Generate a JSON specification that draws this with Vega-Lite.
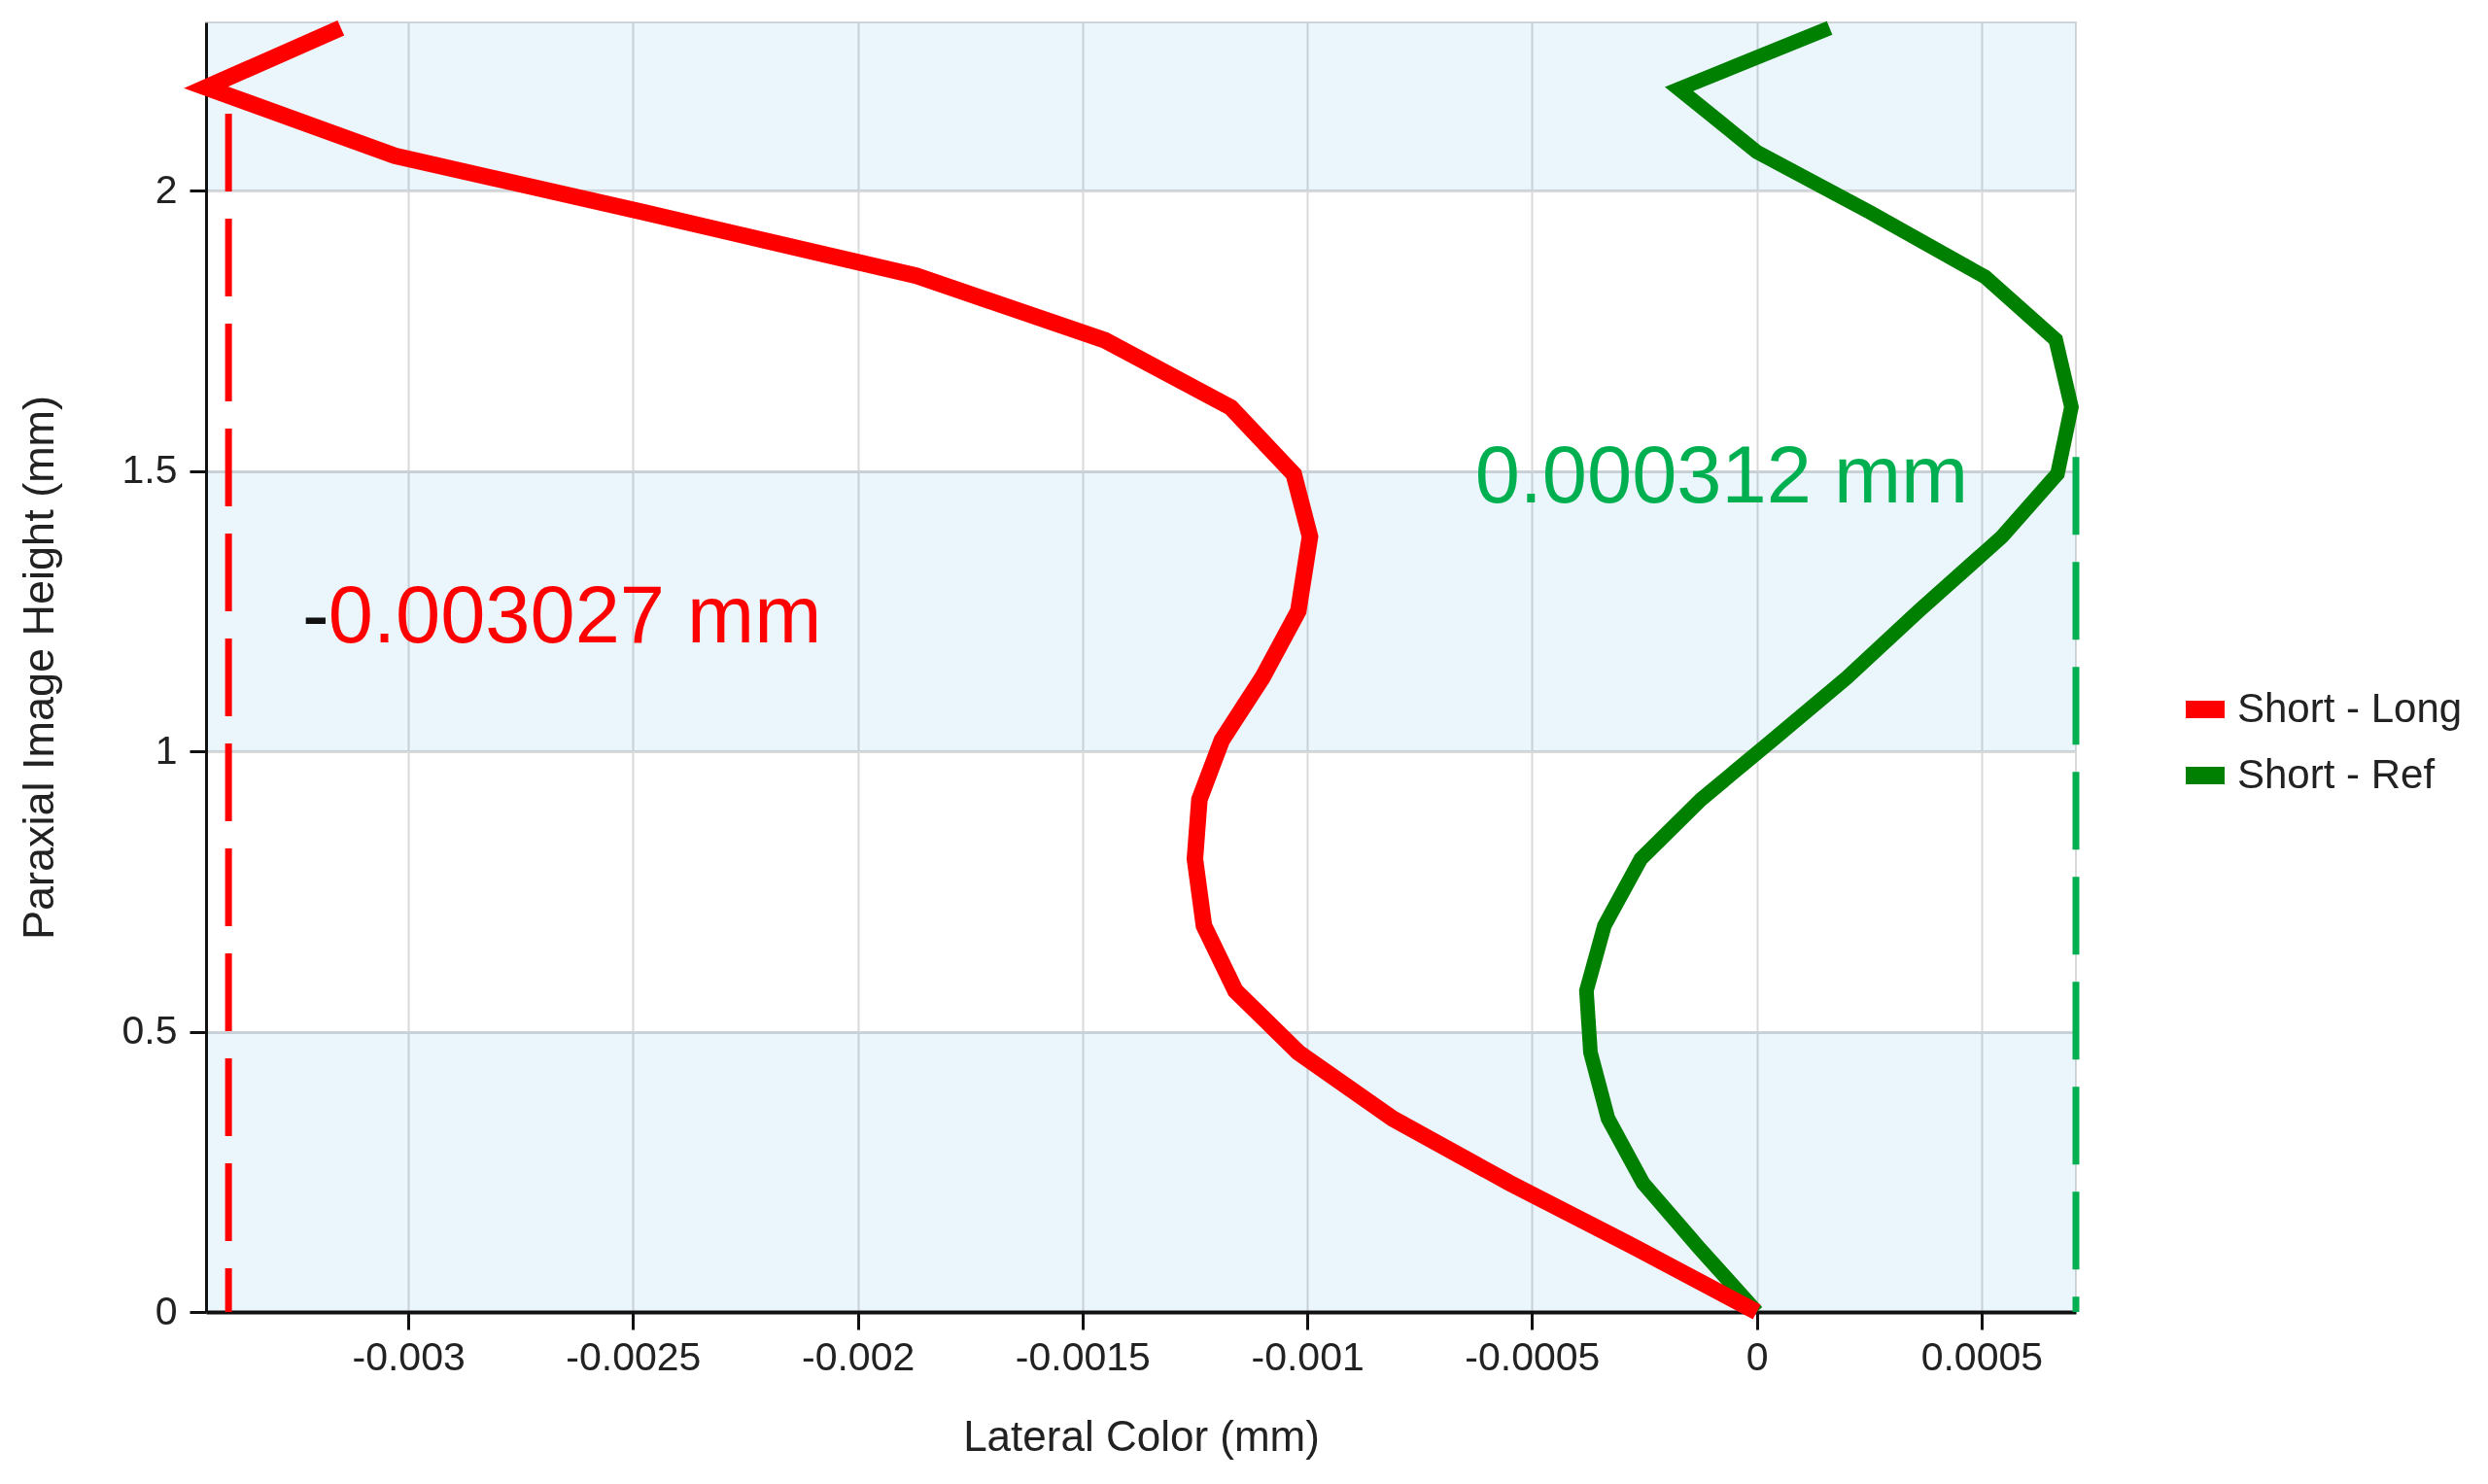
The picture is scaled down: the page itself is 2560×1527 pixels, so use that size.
{
  "$schema": "https://vega.github.io/schema/vega-lite/v6.json",
  "width": 1924,
  "height": 1327,
  "autosize": {"type": "none"},
  "padding": {"left": 212, "top": 23, "right": 424, "bottom": 177},
  "background": "white",
  "config": {
    "locale": {"number": {"decimal": ".", "thousands": ",", "grouping": [3], "currency": ["$", ""], "minus": "-"}},
    "view": {"stroke": "#D9D9D9", "strokeWidth": 2},
    "font": "Liberation Sans"
  },
  "datasets": {
    "bands": [
      {"lo": 0, "hi": 0.5},
      {"lo": 1, "hi": 1.5},
      {"lo": 2, "hi": 2.3}
    ],
    "curves": [
      {"series": "Short - Long", "lc": 0, "h": 0},
      {"series": "Short - Long", "lc": -0.00027, "h": 0.115},
      {"series": "Short - Long", "lc": -0.00055, "h": 0.23},
      {"series": "Short - Long", "lc": -0.00081, "h": 0.345},
      {"series": "Short - Long", "lc": -0.00102, "h": 0.463},
      {"series": "Short - Long", "lc": -0.00116, "h": 0.573},
      {"series": "Short - Long", "lc": -0.00123, "h": 0.689},
      {"series": "Short - Long", "lc": -0.00125, "h": 0.808},
      {"series": "Short - Long", "lc": -0.00124, "h": 0.914},
      {"series": "Short - Long", "lc": -0.00119, "h": 1.02},
      {"series": "Short - Long", "lc": -0.0011, "h": 1.131},
      {"series": "Short - Long", "lc": -0.00102, "h": 1.25},
      {"series": "Short - Long", "lc": -0.000994, "h": 1.383},
      {"series": "Short - Long", "lc": -0.00103, "h": 1.494},
      {"series": "Short - Long", "lc": -0.00117, "h": 1.613},
      {"series": "Short - Long", "lc": -0.00145, "h": 1.733},
      {"series": "Short - Long", "lc": -0.00187, "h": 1.848},
      {"series": "Short - Long", "lc": -0.00248, "h": 1.962},
      {"series": "Short - Long", "lc": -0.00303, "h": 2.062},
      {"series": "Short - Long", "lc": -0.00345, "h": 2.184},
      {"series": "Short - Long", "lc": -0.00315, "h": 2.29},
      {"series": "Short - Ref", "lc": 0, "h": 0},
      {"series": "Short - Ref", "lc": -0.000129, "h": 0.115},
      {"series": "Short - Ref", "lc": -0.000253, "h": 0.23},
      {"series": "Short - Ref", "lc": -0.000331, "h": 0.345},
      {"series": "Short - Ref", "lc": -0.00037, "h": 0.463},
      {"series": "Short - Ref", "lc": -0.000379, "h": 0.573},
      {"series": "Short - Ref", "lc": -0.000339, "h": 0.689},
      {"series": "Short - Ref", "lc": -0.000258, "h": 0.808},
      {"series": "Short - Ref", "lc": -0.000124, "h": 0.914},
      {"series": "Short - Ref", "lc": 0.000035, "h": 1.02},
      {"series": "Short - Ref", "lc": 0.0002, "h": 1.131},
      {"series": "Short - Ref", "lc": 0.00036, "h": 1.25},
      {"series": "Short - Ref", "lc": 0.000546, "h": 1.383},
      {"series": "Short - Ref", "lc": 0.000669, "h": 1.495},
      {"series": "Short - Ref", "lc": 0.0007, "h": 1.614},
      {"series": "Short - Ref", "lc": 0.000665, "h": 1.734},
      {"series": "Short - Ref", "lc": 0.000508, "h": 1.846},
      {"series": "Short - Ref", "lc": 0.00025, "h": 1.962},
      {"series": "Short - Ref", "lc": 0, "h": 2.069},
      {"series": "Short - Ref", "lc": -0.000173, "h": 2.181},
      {"series": "Short - Ref", "lc": 0.000162, "h": 2.29}
    ],
    "limits": [
      {"series": "Short - Long", "lc": -0.0034, "top": 2.137, "bottom": 0},
      {"series": "Short - Ref", "lc": 0.00071, "top": 1.525, "bottom": 0}
    ],
    "notes": [
      {"series": "Short - Long", "part": "sign", "t": "-", "lc": -0.003236, "h": 1.238},
      {"series": "Short - Long", "part": "value", "t": "0.003027 mm", "lc": -0.003178, "h": 1.238},
      {"series": "Short - Ref", "part": "value", "t": "0.000312 mm", "lc": -0.000627, "h": 1.487}
    ]
  },
  "layer": [
    {
      "data": {"name": "bands"},
      "mark": {"type": "rect", "fill": "#EAF5FC", "blend": "multiply"},
      "encoding": {
        "x": {"value": 0},
        "x2": {"value": "width"},
        "y": {
          "field": "lo", "type": "quantitative",
          "scale": {"domain": [0, 2.3], "nice": false, "zero": false},
          "axis": {
            "title": "Paraxial Image Height (mm)",
            "values": [0, 0.5, 1, 1.5, 2],
            "format": "~g",
            "grid": true, "gridColor": "#D9D9D9", "gridWidth": 3,
            "domainColor": "#111111", "domainWidth": 3,
            "tickColor": "#111111", "tickWidth": 3, "tickSize": 17,
            "labelFontSize": 41, "labelPadding": 13, "labelColor": "#222222",
            "titleFontSize": 45, "titleFontWeight": "normal", "titleColor": "#222222", "titlePadding": 62
          }
        },
        "y2": {"field": "hi"}
      }
    },
    {
      "data": {"name": "curves"},
      "transform": [{"filter": "datum.series === 'Short - Ref'"}],
      "mark": {"type": "line", "strokeWidth": 15, "strokeJoin": "miter", "strokeCap": "butt"},
      "encoding": {
        "x": {
          "field": "lc", "type": "quantitative",
          "scale": {"domain": [-0.00345, 0.00071], "nice": false, "zero": false},
          "axis": {
            "title": "Lateral Color (mm)",
            "values": [-0.003, -0.0025, -0.002, -0.0015, -0.001, -0.0005, 0, 0.0005],
            "format": "~g",
            "grid": true, "gridColor": "#D9D9D9", "gridWidth": 2,
            "domainColor": "#111111", "domainWidth": 4,
            "tickColor": "#111111", "tickWidth": 3, "tickSize": 18,
            "labelFontSize": 41, "labelPadding": 9, "labelColor": "#222222",
            "titleFontSize": 44, "titleFontWeight": "normal", "titleColor": "#222222", "titlePadding": 40
          }
        },
        "y": {"field": "h", "type": "quantitative", "scale": {"domain": [0, 2.3], "nice": false, "zero": false}},
        "order": {"field": "h", "type": "quantitative"},
        "color": {
          "field": "series", "type": "nominal",
          "scale": {"domain": ["Short - Long", "Short - Ref"], "range": ["#FF0000", "#008000"]},
          "legend": {
            "orient": "none", "legendX": 2028, "legendY": 678, "title": null,
            "symbolType": "stroke", "symbolSize": 1600, "symbolStrokeWidth": 18,
            "labelFontSize": 42, "labelColor": "#222222", "labelLimit": 0,
            "rowPadding": -4, "padding": 0, "labelOffset": 4
          }
        }
      }
    },
    {
      "data": {"name": "curves"},
      "transform": [{"filter": "datum.series === 'Short - Long'"}],
      "mark": {"type": "line", "strokeWidth": 17, "strokeJoin": "miter", "strokeCap": "butt"},
      "encoding": {
        "x": {"field": "lc", "type": "quantitative", "scale": {"domain": [-0.00345, 0.00071], "nice": false, "zero": false}},
        "y": {"field": "h", "type": "quantitative", "scale": {"domain": [0, 2.3], "nice": false, "zero": false}},
        "order": {"field": "h", "type": "quantitative"},
        "color": {"field": "series", "type": "nominal", "scale": {"domain": ["Short - Long", "Short - Ref"], "range": ["#FF0000", "#008000"]}}
      }
    },
    {
      "data": {"name": "limits"},
      "transform": [{"filter": "datum.series === 'Short - Long'"}],
      "mark": {"type": "rule", "color": "#FF0000", "strokeWidth": 7, "strokeDash": [80, 28]},
      "encoding": {
        "x": {"field": "lc", "type": "quantitative"},
        "y": {"field": "top", "type": "quantitative"},
        "y2": {"field": "bottom"}
      }
    },
    {
      "data": {"name": "limits"},
      "transform": [{"filter": "datum.series === 'Short - Ref'"}],
      "mark": {"type": "rule", "color": "#00B050", "strokeWidth": 7, "strokeDash": [80, 28]},
      "encoding": {
        "x": {"field": "lc", "type": "quantitative"},
        "y": {"field": "top", "type": "quantitative"},
        "y2": {"field": "bottom"}
      }
    },
    {
      "data": {"name": "notes"},
      "transform": [{"filter": "datum.part === 'sign'"}],
      "mark": {"type": "text", "color": "#111111", "fontSize": 83, "align": "left", "baseline": "middle", "font": "Liberation Sans"},
      "encoding": {
        "x": {"field": "lc", "type": "quantitative"},
        "y": {"field": "h", "type": "quantitative"},
        "text": {"field": "t"}
      }
    },
    {
      "data": {"name": "notes"},
      "transform": [{"filter": "datum.part === 'value' && datum.series === 'Short - Long'"}],
      "mark": {"type": "text", "color": "#FF0000", "fontSize": 83, "align": "left", "baseline": "middle", "font": "Liberation Sans"},
      "encoding": {
        "x": {"field": "lc", "type": "quantitative"},
        "y": {"field": "h", "type": "quantitative"},
        "text": {"field": "t"}
      }
    },
    {
      "data": {"name": "notes"},
      "transform": [{"filter": "datum.part === 'value' && datum.series === 'Short - Ref'"}],
      "mark": {"type": "text", "color": "#00B050", "fontSize": 83, "align": "left", "baseline": "middle", "font": "Liberation Sans"},
      "encoding": {
        "x": {"field": "lc", "type": "quantitative"},
        "y": {"field": "h", "type": "quantitative"},
        "text": {"field": "t"}
      }
    }
  ]
}
